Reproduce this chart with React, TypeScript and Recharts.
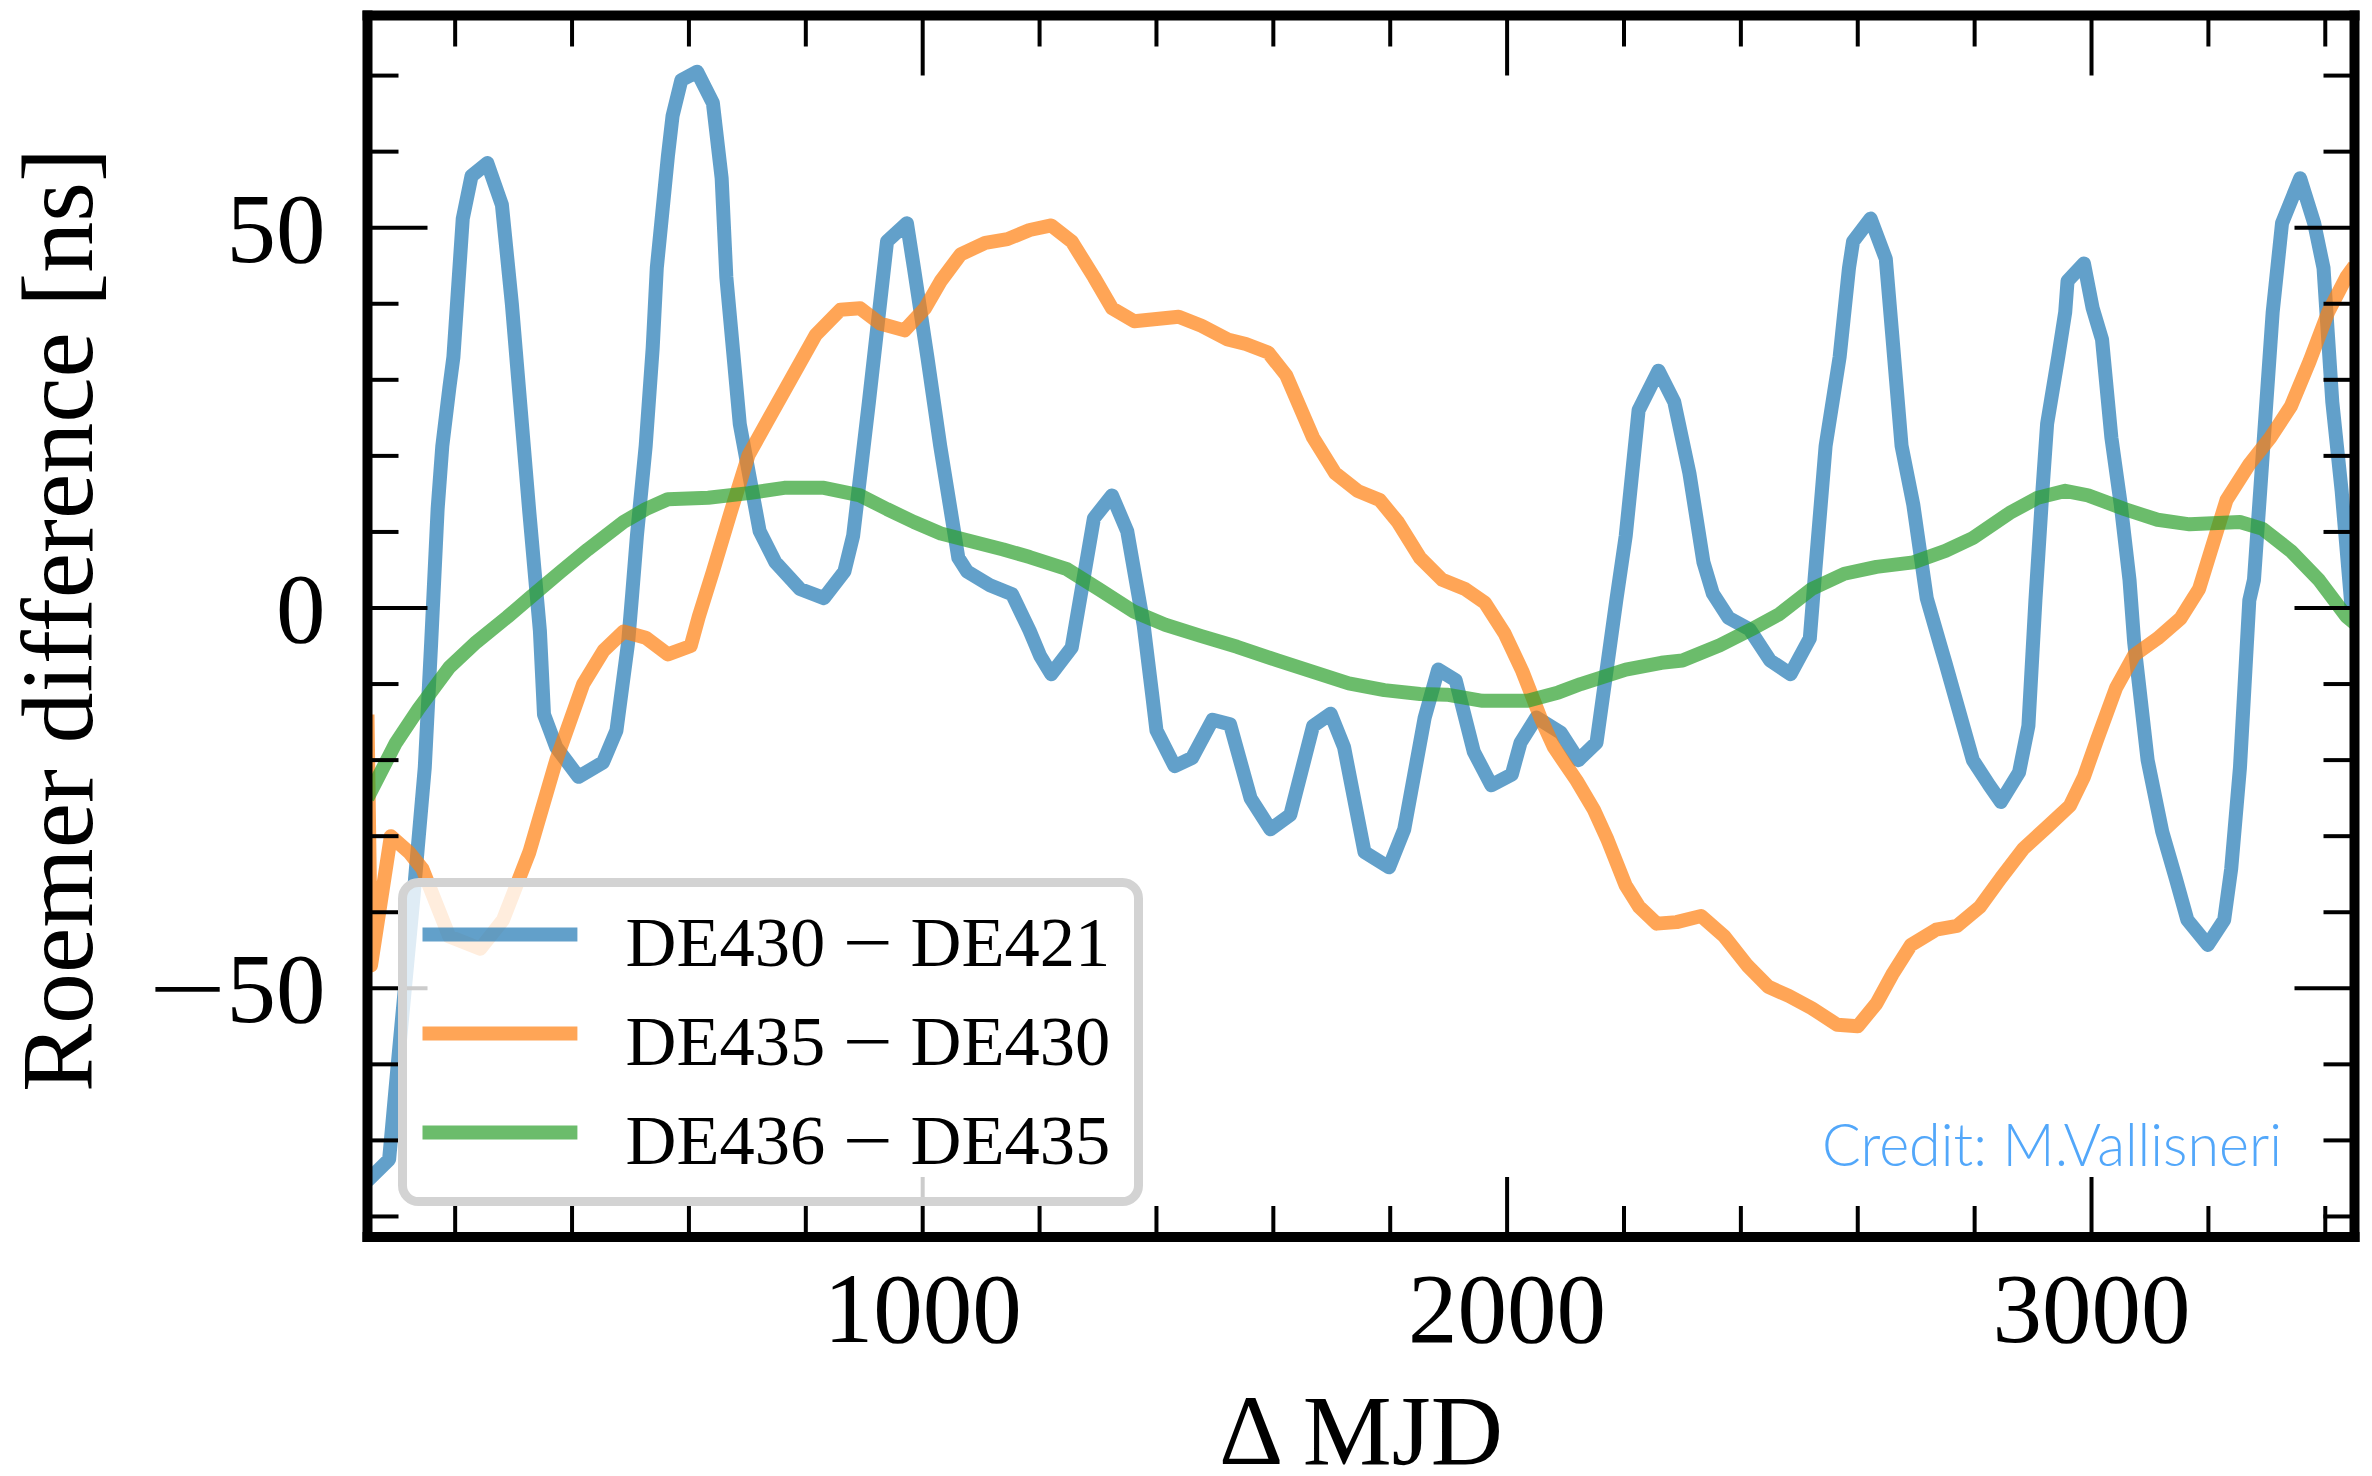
import React from "react";
import { LineChart, Line, XAxis, YAxis, Legend } from "recharts";

const W = 2372;
const H = 1476;
const SERIF = '"Liberation Serif", "Times New Roman", serif';

// plot frame (spine centres) in page pixels
const PLOT = { left: 367.5, top: 15.5, right: 2354.5, bottom: 1237 };

const xDomain: [number, number] = [50, 3450];
const yDomain: [number, number] = [-82.7, 77.9];

const xTicks = [
  200, 400, 600, 800, 1000, 1200, 1400, 1600, 1800, 2000, 2200, 2400, 2600,
  2800, 3000, 3200, 3400,
];
const yTicks = [-80, -70, -60, -50, -40, -30, -20, -10, 0, 10, 20, 30, 40, 50, 60, 70];

const seriesNames: [string, string][] = [
  ["DE430", "DE421"],
  ["DE435", "DE430"],
  ["DE436", "DE435"],
];
const seriesColors = ["#1f77b4", "#ff7f0e", "#2ca02c"];

// [ΔMJD, ns]
const de430MinusDe421: [number, number][] = [
  [50, -75.3], [87, -72.5], [102, -59.8], [129, -37.7], [148, -21], [159, -4.5],
  [170, 13], [178, 21.3], [190, 28.9], [197, 33], [213, 51.2], [228, 56.8],
  [255, 58.5], [280, 53], [297, 40], [327, 12.5], [345, -3], [352, -14],
  [373, -18.3], [411, -22.2], [453, -20.3], [476, -16.1], [496, -4.5], [503, 1.9],
  [511, 9.5], [526, 21.3], [538, 34.2], [545, 44.7], [564, 59.4], [572, 64.7],
  [587, 69.4], [614, 70.5], [641, 66.4], [656, 56.5], [664, 43.5], [687, 24.2],
  [721, 10.1], [748, 6], [790, 2.5], [831, 1.3], [866, 4.8], [881, 9.5],
  [908, 27.1], [939, 48.2], [973, 50.6], [985, 44.7], [1008, 33], [1030, 21.3],
  [1061, 6.6], [1076, 4.8], [1115, 3], [1153, 1.8], [1183, -3], [1201, -6.3],
  [1220, -8.7], [1255, -5.2], [1293, 11.8], [1324, 14.8], [1350, 10.1], [1378, -2.2],
  [1393, -11.6], [1400, -16.1], [1431, -20.8], [1461, -19.7], [1496, -14.7], [1526, -15.3],
  [1561, -25], [1595, -29.1], [1629, -27.2], [1668, -15.5], [1698, -13.9], [1721, -18.3],
  [1756, -32.1], [1798, -34.1], [1824, -29.1], [1859, -14.4], [1882, -8.1], [1912, -9.5],
  [1943, -18.9], [1973, -23.3], [2008, -21.9], [2023, -17.7], [2050, -14.4], [2092, -16.4],
  [2122, -20], [2153, -17.7], [2172, -7.2], [2187, 1.1], [2203, 9.5], [2225, 26],
  [2259, 31.2], [2286, 27.1], [2312, 17.7], [2336, 6], [2352, 1.9], [2379, -1.3],
  [2415, -2.8], [2450, -6.9], [2485, -8.7], [2518, -4], [2526, 3.7], [2545, 21.3],
  [2569, 33], [2585, 44.7], [2592, 48.2], [2622, 51.2], [2648, 45.9], [2659, 35.9],
  [2675, 21.3], [2695, 13.6], [2718, 1.3], [2742, -5.1], [2750, -7.2], [2797, -20],
  [2825, -23.3], [2845, -25.5], [2876, -21.6], [2892, -15.5], [2904, 1], [2916, 15.4],
  [2924, 24.2], [2943, 33], [2955, 38.9], [2959, 43], [2987, 45.3], [3002, 39.4],
  [3018, 35.3], [3034, 22.4], [3050, 13.6], [3065, 3.7], [3073, -4.5], [3096, -20],
  [3121, -29.4], [3144, -35.5], [3164, -41], [3199, -44.3], [3227, -41], [3239, -34.3],
  [3254, -21], [3270, 1], [3278, 3.7], [3294, 21.3], [3310, 38.9], [3326, 50.6],
  [3357, 56.5], [3381, 50.6], [3397, 44.7], [3412, 27.1], [3428, 15.4], [3445, 0],
];

const de435MinusDe430: [number, number][] = [
  [50, -14], [56, -47], [90, -30], [121, -32.1], [144, -34.3], [190, -43.2],
  [243, -44.8], [282, -41], [327, -32.1], [373, -20], [419, -10], [454, -5.6],
  [488, -3.1], [526, -3.9], [564, -6.1], [603, -5], [617, -1.1], [641, 4.8],
  [671, 12.5], [702, 20.1], [736, 24.8], [817, 35.9], [859, 39.2], [893, 39.4],
  [927, 37.4], [969, 36.5], [1004, 39.4], [1031, 43], [1065, 46.5], [1107, 48],
  [1145, 48.5], [1183, 49.7], [1220, 50.3], [1255, 48.2], [1293, 43.5], [1324, 39.4],
  [1362, 37.7], [1438, 38.3], [1477, 37.1], [1522, 35.3], [1553, 34.7], [1591, 33.6],
  [1622, 30.6], [1668, 22.4], [1706, 17.7], [1744, 15.4], [1782, 14.2], [1813, 11.3],
  [1851, 6.6], [1889, 3.7], [1928, 2.5], [1962, 0.7], [1996, -3.4], [2026, -8.3],
  [2057, -14.4], [2080, -18.3], [2119, -22.7], [2149, -26.6], [2172, -30.5], [2203, -36.5],
  [2226, -39.3], [2256, -41.5], [2290, -41.3], [2332, -40.5], [2372, -43.2], [2411, -47],
  [2447, -49.8], [2482, -51], [2521, -52.6], [2565, -54.8], [2600, -55], [2632, -52],
  [2659, -48.2], [2691, -44.3], [2734, -42.3], [2770, -41.8], [2809, -39.3], [2845, -35.5],
  [2884, -31.6], [2924, -28.8], [2963, -26], [2987, -22.2], [3010, -17.2], [3042, -10.5],
  [3073, -6.2], [3113, -4], [3152, -1.4], [3184, 2.5], [3231, 14.2], [3270, 18.9],
  [3306, 22.4], [3341, 26.5], [3373, 32.4], [3405, 38.9], [3436, 43.5], [3450, 45],
];

const de436MinusDe435: [number, number][] = [
  [50, -25], [98, -17.8], [137, -13.3], [190, -7.8], [236, -4.5], [289, -1.2],
  [327, 1.3], [381, 4.8], [427, 7.7], [488, 11.3], [526, 13], [564, 14.3],
  [633, 14.5], [702, 15.1], [763, 15.8], [831, 15.8], [893, 14.8], [939, 13],
  [985, 11.3], [1031, 9.8], [1076, 8.9], [1138, 7.7], [1183, 6.7], [1247, 5.1],
  [1301, 2.5], [1362, -0.5], [1415, -2.2], [1477, -3.7], [1538, -5.1], [1607, -6.9],
  [1668, -8.4], [1729, -9.9], [1790, -10.8], [1851, -11.3], [1897, -11.4], [1958, -12.2],
  [2035, -12.2], [2088, -11.1], [2126, -10], [2203, -8.1], [2264, -7.2], [2300, -6.9],
  [2364, -4.9], [2418, -2.8], [2466, -0.8], [2521, 2.5], [2577, 4.5], [2632, 5.4],
  [2695, 6], [2750, 7.5], [2797, 9.2], [2860, 12.5], [2908, 14.5], [2955, 15.4],
  [2994, 14.8], [3057, 13], [3113, 11.6], [3168, 11], [3254, 11.3], [3293, 10.4],
  [3341, 7.5], [3389, 3.7], [3436, -1.1], [3450, -2],
];

const toPoints = (rows: [number, number][]) => rows.map(([x, y]) => ({ x, y }));
const seriesData = [de430MinusDe421, de435MinusDe430, de436MinusDe435].map(toPoints);

const MAJOR_LEN = 60;
const MINOR_LEN = 31;
const TICK_W = 4;
const TICK_FONT = 99;
const spine = { stroke: "#000", strokeWidth: 10, strokeLinecap: "square" as const };
const MINUS = "\u2212";

function BottomTick(props: any) {
  const { x, y, payload } = props;
  const major = payload.value % 1000 === 0;
  return (
    <g>
      <line x1={x} x2={x} y1={y} y2={y - (major ? MAJOR_LEN : MINOR_LEN)} stroke="#000" strokeWidth={TICK_W} />
      {major && (
        <text x={x} y={y + 105} textAnchor="middle" fontSize={TICK_FONT} fontFamily={SERIF} fill="#000">
          {payload.value}
        </text>
      )}
    </g>
  );
}

function TopTick(props: any) {
  const { x, y, payload } = props;
  const major = payload.value % 1000 === 0;
  return <line x1={x} x2={x} y1={y} y2={y + (major ? MAJOR_LEN : MINOR_LEN)} stroke="#000" strokeWidth={TICK_W} />;
}

function LeftTick(props: any) {
  const { x, y, payload } = props;
  const v: number = payload.value;
  const major = v % 50 === 0;
  return (
    <g>
      <line x1={x} x2={x + (major ? MAJOR_LEN : MINOR_LEN)} y1={y} y2={y} stroke="#000" strokeWidth={TICK_W} />
      {major && (
        <text x={x - 42} y={y} textAnchor="end" dominantBaseline="central" fontSize={TICK_FONT} fontFamily={SERIF} fill="#000">
          {v < 0 && (
            <tspan textLength={78} lengthAdjust="spacingAndGlyphs">
              {MINUS}
            </tspan>
          )}
          <tspan>{Math.abs(v)}</tspan>
        </text>
      )}
    </g>
  );
}

function RightTick(props: any) {
  const { x, y, payload } = props;
  const major = payload.value % 50 === 0;
  return <line x1={x} x2={x - (major ? MAJOR_LEN : MINOR_LEN)} y1={y} y2={y} stroke="#000" strokeWidth={TICK_W} />;
}

function XTitle() {
  return (
    <text x={(PLOT.left + PLOT.right) / 2} y={1464} textAnchor="middle" fontSize={100} fontFamily={SERIF} fill="#000">
      {"\u0394 MJD"}
    </text>
  );
}

function YTitle() {
  const cx = 92;
  const cy = 620;
  return (
    <text x={cx} y={cy} transform={`rotate(-90, ${cx}, ${cy})`} textAnchor="middle" fontSize={102} fontFamily={SERIF} fill="#000">
      Roemer difference [ns]
    </text>
  );
}

function LegendBox(props: any) {
  const items = props.payload || [];
  return (
    <svg width={745} height={328} style={{ display: "block" }}>
      <rect x={4.5} y={4.5} width={736} height={319} rx={16} fill="rgba(255,255,255,0.8)" stroke="#d3d3d3" strokeWidth={9} />
      {items.map((item: any, i: number) => {
        const [a, b] = String(item.value).split(` ${MINUS} `);
        return (
          <g key={item.value}>
            <line x1={24.5} x2={179.4} y1={56.6 + i * 99} y2={56.6 + i * 99} stroke={item.color} strokeOpacity={0.7} strokeWidth={14} />
            <text x={227.6} y={88 + i * 99} fontSize={70.5} fontFamily={SERIF} fill="#000">
              <tspan>{`${a} `}</tspan>
              <tspan textLength={50} lengthAdjust="spacingAndGlyphs">{MINUS}</tspan>
              <tspan>{` ${b}`}</tspan>
            </text>
          </g>
        );
      })}
    </svg>
  );
}

export default function App() {
  return (
    <div style={{ position: "absolute", left: 0, top: 0, width: W, height: H, background: "#fff" }}>
      <LineChart width={W} height={H} margin={{ top: 14.5, right: 16.5, bottom: 0, left: 0 }}>
        <XAxis
          xAxisId="b"
          type="number"
          dataKey="x"
          domain={xDomain}
          allowDataOverflow
          ticks={xTicks}
          interval={0}
          orientation="bottom"
          height={239}
          tickSize={0}
          tickMargin={0}
          tickLine={false}
          axisLine={spine}
          tick={(p: any) => <BottomTick {...p} />}
          label={<XTitle />}
        />
        <XAxis
          xAxisId="t"
          type="number"
          dataKey="x"
          domain={xDomain}
          allowDataOverflow
          ticks={xTicks}
          interval={0}
          orientation="top"
          height={1}
          tickSize={0}
          tickMargin={0}
          tickLine={false}
          axisLine={spine}
          tick={(p: any) => <TopTick {...p} />}
        />
        <YAxis
          yAxisId="l"
          type="number"
          domain={yDomain}
          allowDataOverflow
          ticks={yTicks}
          interval={0}
          orientation="left"
          width={367.5}
          tickSize={0}
          tickMargin={0}
          tickLine={false}
          axisLine={spine}
          tick={(p: any) => <LeftTick {...p} />}
          label={<YTitle />}
        />
        <YAxis
          yAxisId="r"
          type="number"
          domain={yDomain}
          allowDataOverflow
          ticks={yTicks}
          interval={0}
          orientation="right"
          width={1}
          tickSize={0}
          tickMargin={0}
          tickLine={false}
          axisLine={spine}
          tick={(p: any) => <RightTick {...p} />}
        />
        {seriesData.map((d, i) => (
          <Line
            key={seriesNames[i].join("-")}
            xAxisId="b"
            yAxisId="l"
            data={d}
            dataKey="y"
            name={seriesNames[i].join(` ${MINUS} `)}
            type="linear"
            stroke={seriesColors[i]}
            strokeOpacity={0.7}
            strokeWidth={14}
            strokeLinejoin="round"
            dot={false}
            activeDot={false}
            isAnimationActive={false}
          />
        ))}
        <Legend
          layout="vertical"
          align="center"
          verticalAlign="middle"
          content={(p: any) => <LegendBox {...p} />}
          wrapperStyle={{ left: 398, top: 878, width: 745, height: 328 }}
        />
      </LineChart>
      <svg width={W} height={H} style={{ position: "absolute", left: 0, top: 0, pointerEvents: "none" }}>
        <text
          x={1822}
          y={1166}
          fontSize={60}
          fontWeight={300}
          fontFamily="Lato, 'Open Sans', sans-serif"
          fill="#52a7fa"
          textLength={460}
          lengthAdjust="spacingAndGlyphs"
        >
          Credit: M.Vallisneri
        </text>
      </svg>
    </div>
  );
}
